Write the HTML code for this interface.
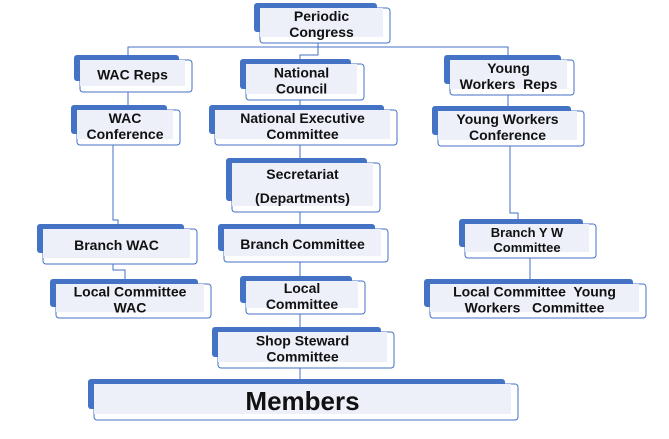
<!DOCTYPE html><html><head><style>
body{margin:0;background:#fff;}
svg text{font-family:"Liberation Sans",sans-serif;font-weight:bold;fill:#111;text-anchor:middle;font-size:14px}
.b{fill:#4472c4}.f{fill:#fff;stroke:#4472c4}.l{fill:#edf0f9}
</style></head><body>
<svg width="669" height="434" xmlns="http://www.w3.org/2000/svg">
<g stroke="#4472c4" stroke-width="1" fill="none">
<polyline points="128,58 128,47 508,47 508,60"/>
<polyline points="318,43 318,55 300,55 300,64"/>
<line x1="300" y1="100" x2="300" y2="110"/>
<line x1="300" y1="145" x2="300" y2="163"/>
<line x1="300" y1="212" x2="300" y2="229"/>
<line x1="300" y1="262" x2="300" y2="281"/>
<line x1="300" y1="314" x2="300" y2="332"/>
<line x1="300" y1="368" x2="300" y2="384"/>
<line x1="128" y1="92" x2="128" y2="110"/>
<line x1="508" y1="95" x2="508" y2="111"/>
<polyline points="113,145 113,220 118,220 118,229"/>
<polyline points="113,264 113,270 125,270 125,284"/>
<polyline points="510,146 510,213 518,213 518,224"/>
<line x1="530" y1="258" x2="530" y2="284"/>
</g>

<rect class="b" x="254" y="3" width="123" height="29" rx="3"/><rect class="f" x="260" y="8" width="130" height="35" rx="3"/><rect class="l" x="260" y="8" width="123" height="29"/>
<text x="321.5" y="21">Periodic</text><text x="321.5" y="37">Congress</text>

<rect class="b" x="74" y="55" width="105" height="26" rx="3"/><rect class="f" x="80" y="60" width="112" height="32" rx="3"/><rect class="l" x="80" y="60" width="105" height="26"/>
<text x="132.5" y="79.5">WAC Reps</text>

<rect class="b" x="240" y="59" width="111" height="30" rx="3"/><rect class="f" x="246" y="64" width="118" height="36" rx="3"/><rect class="l" x="246" y="64" width="111" height="30"/>
<text x="301.5" y="77.5">National</text><text x="301.5" y="93.5">Council</text>

<rect class="b" x="444" y="55" width="117" height="29" rx="3"/><rect class="f" x="450" y="60" width="124" height="35" rx="3"/><rect class="l" x="450" y="60" width="117" height="29"/>
<text x="508.5" y="73">Young</text><text x="508.5" y="89" xml:space="preserve">Workers  Reps</text>

<rect class="b" x="71" y="105" width="96" height="29" rx="3"/><rect class="f" x="77" y="110" width="103" height="35" rx="3"/><rect class="l" x="77" y="110" width="96" height="29"/>
<text x="125" y="123">WAC</text><text x="125" y="139">Conference</text>

<rect class="b" x="209" y="105" width="175" height="29" rx="3"/><rect class="f" x="215" y="110" width="182" height="35" rx="3"/><rect class="l" x="215" y="110" width="175" height="29"/>
<text x="302.5" y="123">National Executive</text><text x="302.5" y="139">Committee</text>

<rect class="b" x="432" y="106" width="139" height="29" rx="3"/><rect class="f" x="438" y="111" width="146" height="35" rx="3"/><rect class="l" x="438" y="111" width="139" height="29"/>
<text x="507.5" y="124">Young Workers</text><text x="507.5" y="140">Conference</text>

<rect class="b" x="226" y="158" width="141" height="43" rx="3"/><rect class="f" x="232" y="163" width="148" height="49" rx="3"/><rect class="l" x="232" y="163" width="141" height="43"/>
<text x="302.5" y="179">Secretariat</text><text x="302.5" y="203">(Departments)</text>

<rect class="b" x="37" y="224" width="147" height="29" rx="3"/><rect class="f" x="43" y="229" width="154" height="35" rx="3"/><rect class="l" x="43" y="229" width="147" height="29"/>
<text x="116.5" y="250">Branch WAC</text>

<rect class="b" x="218" y="224" width="157" height="27" rx="3"/><rect class="f" x="224" y="229" width="164" height="33" rx="3"/><rect class="l" x="224" y="229" width="157" height="27"/>
<text x="302.5" y="249">Branch Committee</text>

<rect class="b" x="459" y="219" width="124" height="28" rx="3"/><rect class="f" x="465" y="224" width="131" height="34" rx="3"/><rect class="l" x="465" y="224" width="124" height="28"/>
<text x="527" y="237" style="font-size:13px">Branch Y W</text><text x="527" y="252" style="font-size:13px">Committee</text>

<rect class="b" x="50" y="279" width="148" height="28" rx="3"/><rect class="f" x="56" y="284" width="155" height="34" rx="3"/><rect class="l" x="56" y="284" width="148" height="28"/>
<text x="130" y="296.5">Local Committee</text><text x="130" y="312.5">WAC</text>

<rect class="b" x="240" y="276" width="112" height="27" rx="3"/><rect class="f" x="246" y="281" width="119" height="33" rx="3"/><rect class="l" x="246" y="281" width="112" height="27"/>
<text x="302" y="293">Local</text><text x="302" y="309">Committee</text>

<rect class="b" x="424" y="279" width="209" height="28" rx="3"/><rect class="f" x="430" y="284" width="216" height="34" rx="3"/><rect class="l" x="430" y="284" width="209" height="28"/>
<text x="534.5" y="296.5" xml:space="preserve">Local Committee  Young</text><text x="534.5" y="312.5" xml:space="preserve">Workers   Committee</text>

<rect class="b" x="212" y="327" width="169" height="30" rx="3"/><rect class="f" x="218" y="332" width="176" height="36" rx="3"/><rect class="l" x="218" y="332" width="169" height="30"/>
<text x="302.5" y="345.5">Shop Steward</text><text x="302.5" y="361.5">Committee</text>

<rect class="b" x="88" y="379" width="417" height="30" rx="3"/><rect class="f" x="94" y="384" width="424" height="36" rx="3"/><rect class="l" x="94" y="384" width="417" height="30"/>
<text x="302.5" y="410" style="font-size:26px">Members</text>
</svg></body></html>
